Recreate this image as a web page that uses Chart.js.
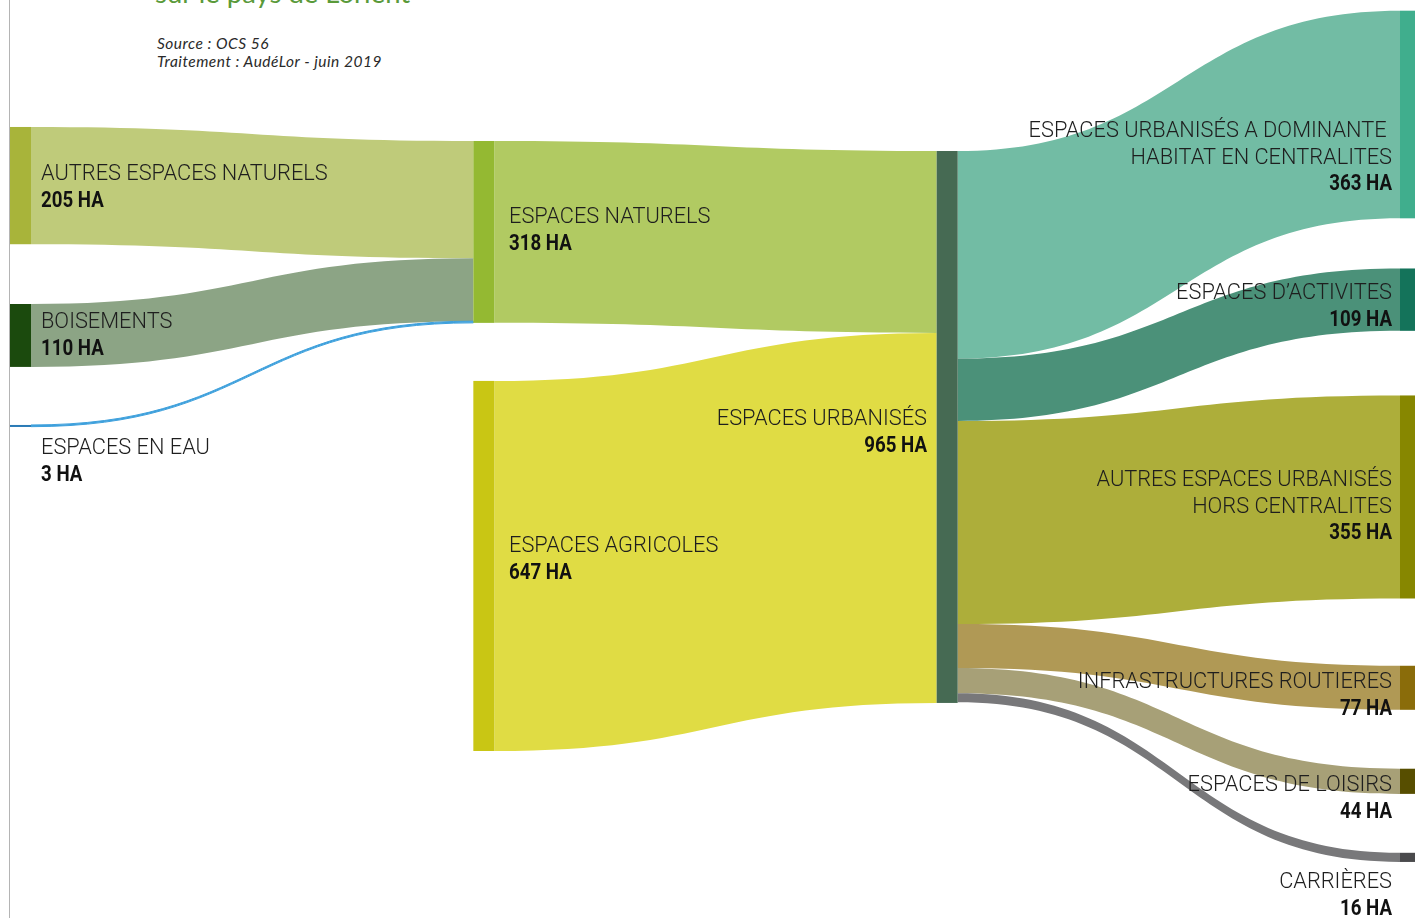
<!DOCTYPE html>
<html>
<head>
<meta charset="utf-8">
<script src="https://cdn.jsdelivr.net/npm/chart.js@4.4.1/dist/chart.umd.min.js"></script>
<style>
  html, body { margin:0; padding:0; background:#fff; }
  #wrap { position:relative; width:1415px; height:918px; overflow:hidden; }
  #vline { position:absolute; left:9px; top:0; width:1px; height:918px; background:#b4b4b4; }
  #title { position:absolute; left:155px; top:-24px; font:400 27.5px Lato, "Open Sans", sans-serif; color:#5a9a3a; white-space:nowrap; }
  #source { position:absolute; left:157px; top:34px; font:italic 400 15.5px Lato, "Open Sans", sans-serif; letter-spacing:0.5px; color:#2a2a2a; line-height:18px; white-space:nowrap; }
  canvas { position:absolute; left:0; top:0; }
</style>
</head>
<body>
<div id="wrap">
  <div id="vline"></div>
  <div id="title">sur le pays de Lorient</div>
  <div id="source">Source : OCS 56<br>Traitement : AudéLor - juin 2019</div>
  <canvas id="c" width="1415" height="918"></canvas>
</div>
<script>
// ---------- DATA ----------
const nodeNames = [
  ['AUTRES ESPACES NATURELS'],
  ['BOISEMENTS'],
  ['ESPACES EN EAU'],
  ['ESPACES NATURELS'],
  ['ESPACES AGRICOLES'],
  ['ESPACES URBANISÉS'],
  ['ESPACES URBANISÉS A DOMINANTE ', 'HABITAT EN CENTRALITES'],
  ['ESPACES D\u2019ACTIVITES'],
  ['AUTRES ESPACES URBANISÉS', 'HORS CENTRALITES'],
  ['INFRASTRUCTURES ROUTIERES'],
  ['ESPACES DE LOISIRS'],
  ['CARRIÈRES']
];
const nodeValues = [205, 110, 3, 318, 647, 965, 363, 109, 355, 77, 44, 16];
const flowFrom   = [0, 1, 2, 3, 4, 5, 5, 5, 5, 5, 5];
const flowTo     = [3, 3, 3, 5, 5, 6, 7, 8, 9, 10, 11];
const flowValues = [205, 110, 3, 318, 647, 363, 109, 355, 77, 44, 16];
const unitLabel  = 'HA';

// ---------- LAYOUT / STYLE ----------
const nodeColumn = [0, 0, 0, 1, 1, 2, 3, 3, 3, 3, 3, 3];
const nodeTop    = [222, 531.5, 743, 246.5, 666, 264, 18.7, 469.4, 691.4, 1164, 1344, 1491]; // in y-scale units (HA)
const nodeColor  = ['#a8b43a', '#1b4a0d', '#2a7ab5', '#94b932', '#c9c614', '#466a53',
                    '#40ae8d', '#14735a', '#878700', '#8a6c0a', '#574e00', '#4a4a4c'];
const flowColor  = ['#bfcb7a', '#8ca485', '#3ea0dc', '#b1ca62', '#e0dc44',
                    '#72bca4', '#4b9179', '#adae3a', '#b09955', '#a7a077', '#78787a'];
const labelBaseline = [180, 328, 454, 223, 552, 425, 137, 299, 486, 688, 791, 888]; // px
const labelAlign = ['left','left','left','left','left','right','right','right','right','right','right','right'];
const labelX = [41, 41, 41, 509, 509, 927, 1392, 1392, 1392, 1392, 1392, 1392];
const nodeWidth = 21;
const lineGap = 26.5;

const sankeyPlugin = {
  id: 'sankeyDraw',
  afterDatasetsDraw(chart) {
    const ctx = chart.ctx;
    const xs = chart.scales.x, ys = chart.scales.y;
    const outOff = nodeValues.map(() => 0);
    const inOff = nodeValues.map(() => 0);
    // flows
    for (let i = 0; i < flowValues.length; i++) {
      const s = flowFrom[i], t = flowTo[i], v = flowValues[i];
      const x0 = xs.getPixelForValue(nodeColumn[s]) + nodeWidth;
      const x1 = xs.getPixelForValue(nodeColumn[t]);
      const sy0 = ys.getPixelForValue(nodeTop[s] + outOff[s]);
      const sy1 = ys.getPixelForValue(nodeTop[s] + outOff[s] + v);
      const ty0 = ys.getPixelForValue(nodeTop[t] + inOff[t]);
      const ty1 = ys.getPixelForValue(nodeTop[t] + inOff[t] + v);
      outOff[s] += v; inOff[t] += v;
      const xm = (x0 + x1) / 2;
      ctx.save();
      ctx.fillStyle = flowColor[i];
      ctx.beginPath();
      ctx.moveTo(x0, sy0);
      ctx.bezierCurveTo(xm, sy0, xm, ty0, x1, ty0);
      ctx.lineTo(x1, ty1);
      ctx.bezierCurveTo(xm, ty1, xm, sy1, x0, sy1);
      ctx.closePath();
      ctx.fill();
      if (sy1 - sy0 < 2.5) {
        ctx.strokeStyle = flowColor[i];
        ctx.lineWidth = 1;
        ctx.stroke();
      }
      ctx.restore();
    }
    // nodes
    for (let n = 0; n < nodeValues.length; n++) {
      const x = xs.getPixelForValue(nodeColumn[n]);
      const y0 = ys.getPixelForValue(nodeTop[n]);
      const y1 = ys.getPixelForValue(nodeTop[n] + nodeValues[n]);
      ctx.fillStyle = nodeColor[n];
      ctx.fillRect(x, y0, nodeWidth, Math.max(2, y1 - y0));
    }
    // labels
    ctx.save();
    ctx.textBaseline = 'alphabetic';
    for (let n = 0; n < nodeValues.length; n++) {
      ctx.textAlign = labelAlign[n];
      let y = labelBaseline[n];
      ctx.fillStyle = '#1e1e1e';
      ctx.font = '300 21.8px Roboto';
      for (const line of nodeNames[n]) {
        ctx.fillText(line, labelX[n], y);
        y += lineGap;
      }
      ctx.save();
      ctx.translate(labelX[n], y);
      ctx.scale(0.85, 1);
      ctx.fillStyle = '#111';
      ctx.font = 'bold 22px Roboto';
      ctx.fillText(nodeValues[n] + ' ' + unitLabel, 0, 0);
      ctx.restore();
    }
    ctx.restore();
  }
};

new Chart(document.getElementById('c'), {
  type: 'scatter',
  data: { datasets: [{ data: [] }] },
  options: {
    responsive: false,
    animation: false,
    layout: { padding: { left: 10, right: 15, top: 0, bottom: 0 } },
    plugins: { legend: { display: false }, tooltip: { enabled: false }, title: { display: false } },
    scales: {
      x: { type: 'linear', min: 0, max: 3, display: false },
      y: { type: 'linear', min: 0, max: 1605, reverse: true, display: false }
    }
  },
  plugins: [sankeyPlugin]
});
</script>
</body>
</html>
